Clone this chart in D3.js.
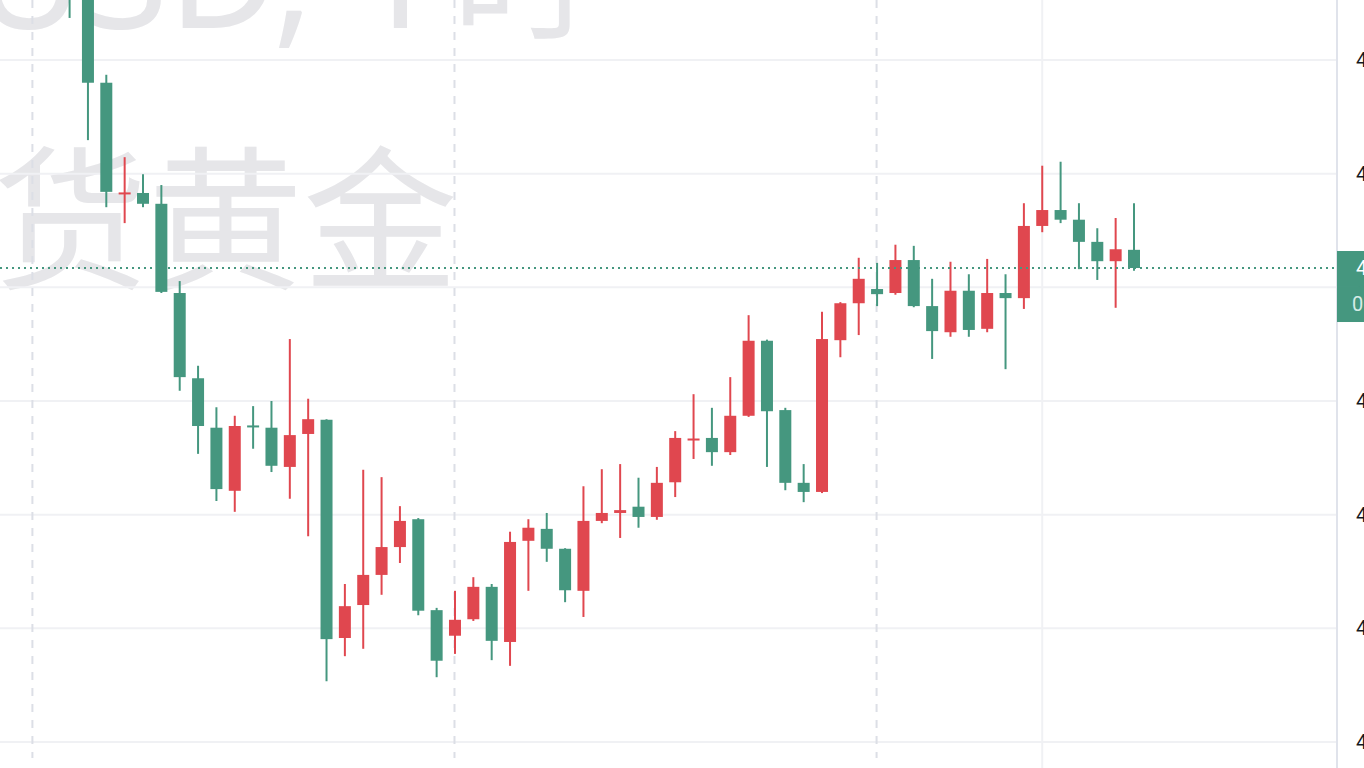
<!DOCTYPE html>
<html><head><meta charset="utf-8">
<script src="https://cdn.jsdelivr.net/npm/d3@7/dist/d3.min.js"></script>
<style>html,body{margin:0;padding:0;background:#fff;overflow:hidden}</style>
</head><body>
<svg id="c" width="1364" height="768"></svg>
<script>
const opens  = [4217.6,4215.8,4196.0,4176.5,4176.6,4174.7,4159.0,4144.0,4135.3,4124.2,4135.7,4135.3,4128.4,4134.2,4136.7,4098.3,4104.1,4109.4,4114.3,4119.2,4103.2,4098.7,4101.6,4107.3,4097.6,4115.4,4117.5,4114.0,4106.6,4118.9,4120.3,4121.4,4119.6,4125.7,4133.1,4133.5,4131.0,4137.4,4150.6,4138.4,4125.6,4124.0,4150.7,4157.2,4159.7,4159.0,4164.8,4156.7,4152.1,4159.4,4152.7,4159.0,4158.1,4170.8,4173.6,4171.9,4168.0,4164.6,4166.6];
const highs  = [4221.1,4217.6,4197.4,4182.9,4179.9,4178.0,4161.1,4146.2,4138.9,4137.4,4139.1,4140.0,4150.9,4140.4,4136.8,4107.8,4127.9,4126.6,4121.5,4119.4,4103.6,4106.6,4109.0,4107.8,4117.0,4119.2,4120.3,4114.1,4125.0,4128.0,4128.9,4126.5,4128.4,4134.7,4141.2,4138.8,4144.2,4155.1,4150.8,4138.8,4128.9,4155.7,4157.4,4165.2,4164.3,4167.5,4167.3,4161.5,4164.5,4162.3,4165.0,4162.3,4174.8,4181.4,4182.1,4174.8,4170.4,4172.2,4174.8];
const lows   = [4207.4,4185.9,4174.1,4171.3,4174.1,4159.0,4141.8,4130.7,4122.4,4120.5,4131.6,4127.5,4122.8,4116.2,4090.7,4095.1,4096.4,4105.9,4111.5,4102.3,4091.4,4095.5,4101.3,4094.4,4093.4,4106.6,4111.7,4104.6,4102.0,4118.5,4115.9,4117.7,4119.1,4123.1,4129.8,4128.6,4130.5,4137.2,4128.4,4124.3,4122.2,4123.8,4147.7,4151.6,4156.7,4158.7,4156.5,4147.4,4151.3,4151.3,4152.1,4145.6,4156.2,4169.7,4171.3,4163.2,4161.3,4156.4,4162.9];
const closes = [4210.9,4196.0,4176.8,4176.7,4174.7,4159.2,4144.2,4135.6,4124.5,4135.6,4135.5,4128.6,4134.0,4136.8,4098.1,4103.9,4109.4,4114.3,4118.9,4103.1,4094.3,4101.5,4107.3,4097.8,4115.2,4117.7,4114.0,4106.7,4118.9,4120.3,4120.8,4119.6,4125.6,4133.5,4133.4,4131.0,4137.4,4150.6,4138.2,4125.6,4124.0,4150.9,4157.2,4161.5,4158.8,4164.8,4156.7,4152.3,4159.4,4152.5,4159.0,4158.1,4170.8,4173.6,4171.9,4168.0,4164.6,4166.7,4163.4];
const priceTicks = [4080,4100,4120,4140,4160,4180,4200];
const sessionBreaks = [-2, 21, 44];
const dayLine = 53;
const watermarkSymbol = "XAUUSD, 1";
const watermarkUnit = "时";
const watermarkName = "现货黄金";
const countdown = "00:24:17";

const W=1364,H=768, axisX=1337;
const svg=d3.select("#c");
const x=d3.scaleLinear().domain([0,58]).range([69.6,1134]);
const y=d3.scaleLinear().domain([4080,4200]).range([742,60]);
const UP="#e0474f", DN="#45977f";

// watermark
const wm=svg.append("g").attr("fill","#e6e6e9");
wm.append("text").attr("x",440).attr("y",28).attr("font-size",152).attr("font-family","'Noto Sans'").attr("text-anchor","end").text(watermarkSymbol);
wm.append("text").attr("x",452).attr("y",28).attr("font-size",140).attr("font-family","'Noto Sans CJK SC'").text(watermarkUnit);
wm.append("text").attr("x",458).attr("y",277).attr("font-size",155).attr("font-family","'Noto Sans CJK SC'").attr("text-anchor","end").text(watermarkName);

// grid
svg.append("g").selectAll("line").data(priceTicks).join("line")
  .attr("x1",0).attr("x2",axisX).attr("y1",d=>y(d)).attr("y2",d=>y(d))
  .attr("stroke","#f0f1f4").attr("stroke-width",2);
svg.append("g").selectAll("line").data(sessionBreaks).join("line")
  .attr("x1",d=>x(d)-0.5).attr("x2",d=>x(d)-0.5).attr("y1",0).attr("y2",758)
  .attr("stroke","#dcdfe6").attr("stroke-width",2).attr("stroke-dasharray","8,8");
svg.append("line").attr("x1",x(dayLine)).attr("x2",x(dayLine)).attr("y1",0).attr("y2",H)
  .attr("stroke","#f0f1f4").attr("stroke-width",2);

// candles
const data=opens.map((o,i)=>({i,o,h:highs[i],l:lows[i],c:closes[i]}));
const g=svg.append("g");
g.selectAll("line.w").data(data).join("line").attr("class","w")
  .attr("x1",d=>x(d.i)).attr("x2",d=>x(d.i)).attr("y1",d=>y(d.h)).attr("y2",d=>y(d.l))
  .attr("stroke",d=>d.c>d.o?UP:DN).attr("stroke-width",2);
g.selectAll("rect").data(data).join("rect")
  .attr("x",d=>x(d.i)-6).attr("width",12)
  .attr("y",d=>y(Math.max(d.o,d.c)))
  .attr("height",d=>Math.max(2,Math.abs(y(d.o)-y(d.c))))
  .attr("fill",d=>d.c>d.o?UP:DN);

// last price line
const last=closes[closes.length-1];
svg.append("line").attr("x1",0).attr("x2",axisX).attr("y1",y(last)).attr("y2",y(last))
  .attr("stroke",DN).attr("stroke-width",2).attr("stroke-dasharray","2,4");

// axis
svg.append("line").attr("x1",axisX).attr("x2",axisX).attr("y1",0).attr("y2",H).attr("stroke","#e0e3eb").attr("stroke-width",2);
const ax=svg.append("g").attr("transform",`translate(${axisX},0)`)
  .call(d3.axisRight(y).tickValues(priceTicks).tickSize(0).tickPadding(19).tickFormat(d3.format(".2f")));
ax.select(".domain").remove();
ax.selectAll("text").attr("font-family","Roboto").attr("font-size",20).attr("fill","#131722");

// price label
svg.append("rect").attr("x",axisX).attr("y",y(last)-17).attr("width",40).attr("height",35).attr("fill",DN);
svg.append("rect").attr("x",axisX).attr("y",y(last)+18).attr("width",40).attr("height",36).attr("fill",DN);
svg.append("text").attr("x",1356).attr("y",y(last)+7).attr("font-family","Roboto").attr("font-size",20).attr("fill","#fff").text(d3.format(".2f")(last));
svg.append("text").attr("x",1352).attr("y",y(last)+43).attr("font-family","Roboto").attr("font-size",20).attr("fill","#d6ece6").text(countdown);
</script>
</body></html>
